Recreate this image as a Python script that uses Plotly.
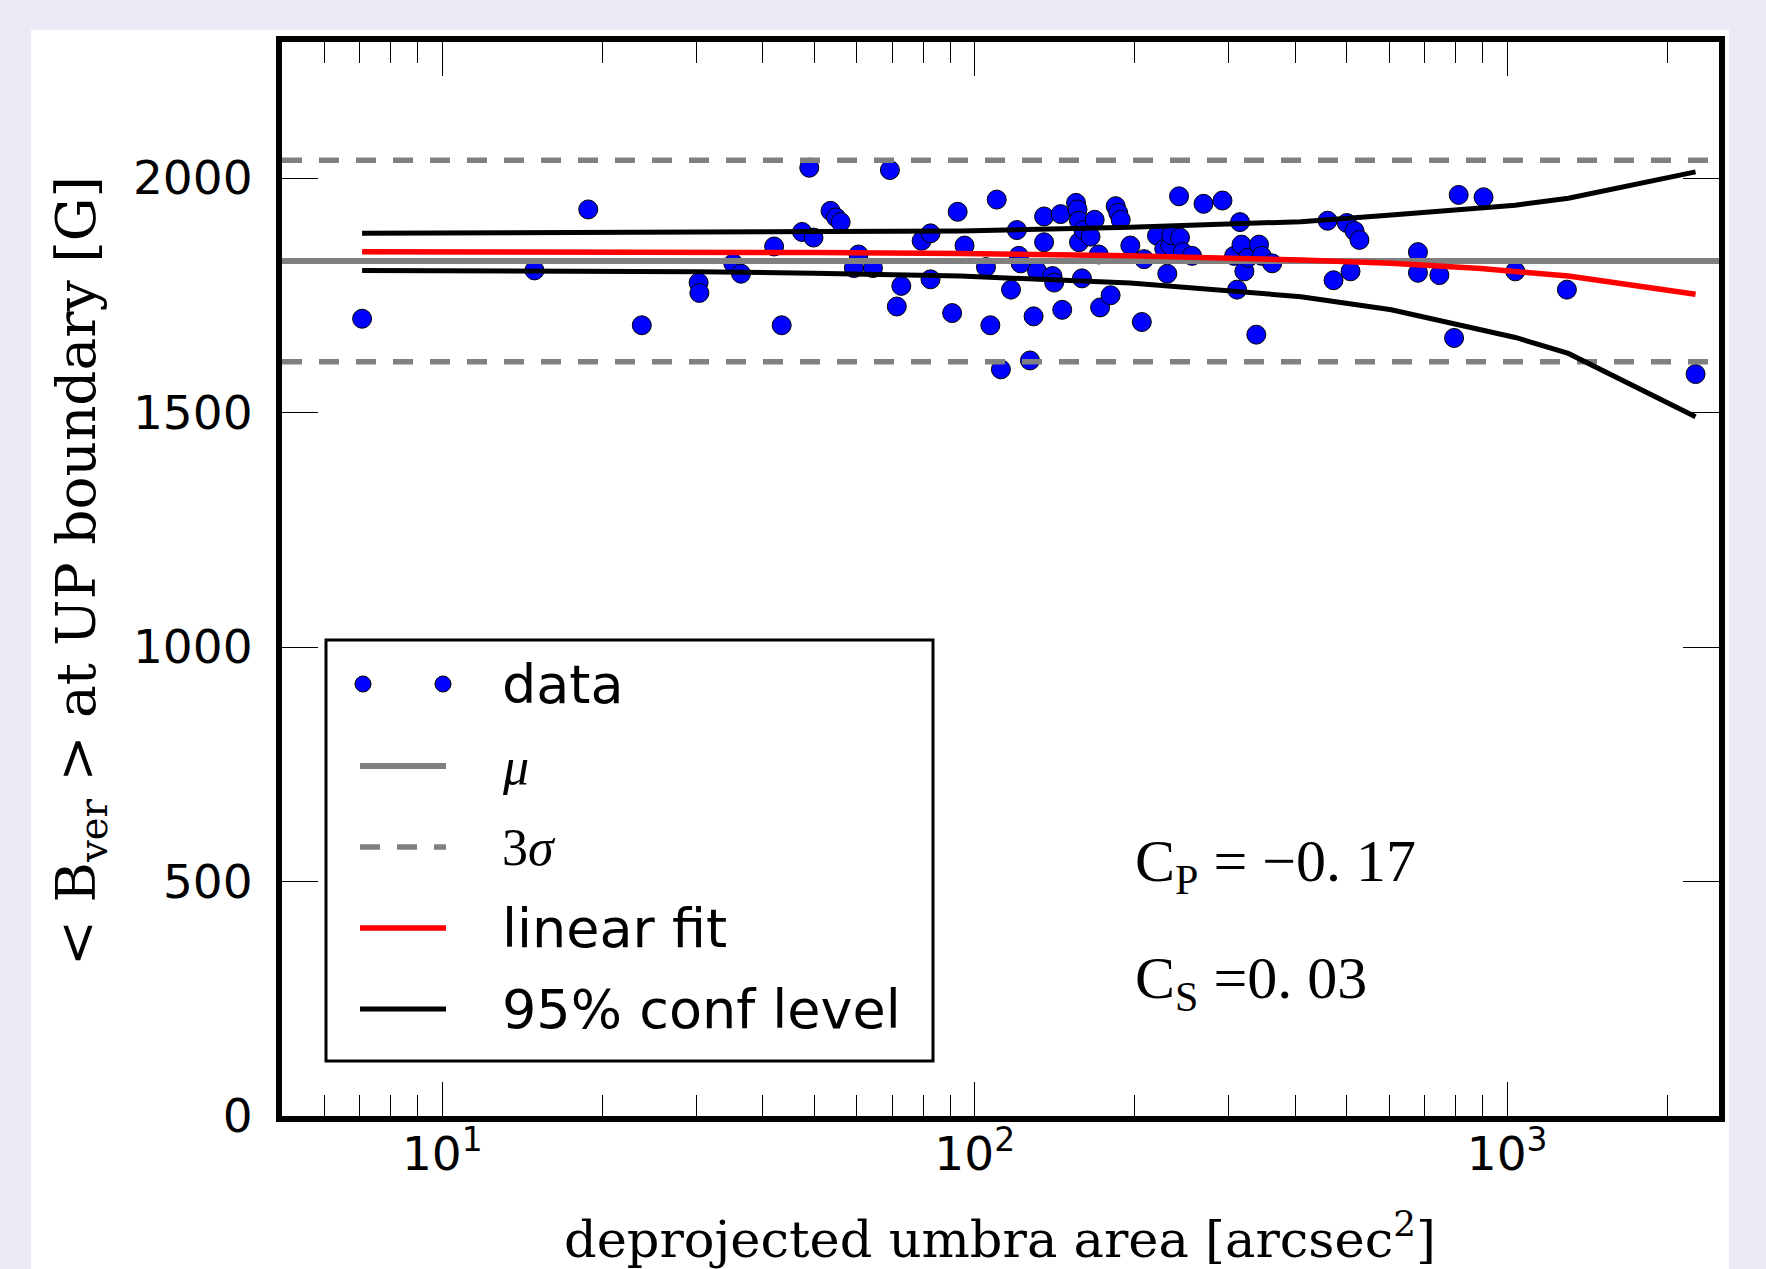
import plotly.graph_objects as go
import numpy as np

# ---------------- data ----------------
area = [7.07, 14.9, 18.8, 23.7, 30.3, 30.4, 35.2, 36.4, 42.0, 43.4, 47.4, 48.9, 49.8, 53.6, 54.9,
        56.0, 60.5, 59.3, 64.4, 69.3, 71.4, 72.8, 79.5, 82.6, 82.6, 90.7, 92.9, 95.7, 105, 107,
        110, 112, 117, 120, 121, 122, 127, 129, 131, 135, 135, 140, 141, 146, 145, 155, 156, 157,
        157, 159, 160, 165, 168, 171, 172, 180, 184, 186, 188, 196, 206, 208, 220, 227, 230, 233,
        234, 242, 243, 246, 256, 269, 292, 307, 311, 315, 317, 321, 326, 342, 338, 346, 362, 460,
        472, 500, 508, 517, 528, 680, 680, 746, 795, 811, 903, 1036, 1295, 2259]
bver = [1700, 1803, 1933, 1686, 1777, 1755, 1818, 1796, 1854, 1686, 1885, 2022, 1873, 1930, 1916,
        1906, 1837, 1808, 1808, 2017, 1726, 1770, 1866, 1882, 1784, 1712, 1928, 1856, 1810, 1686,
        1954, 1592, 1762, 1889, 1834, 1818, 1611, 1705, 1801, 1918, 1863, 1791, 1777, 1719, 1923,
        1947, 1933, 1863, 1909, 1786, 1889, 1875, 1911, 1837, 1724, 1750, 1940, 1926, 1911, 1856,
        1693, 1827, 1877, 1849, 1796, 1856, 1878, 1961, 1873, 1842, 1834, 1945, 1952, 1834, 1762,
        1906, 1858, 1801, 1830, 1858, 1666, 1834, 1818, 1909, 1782, 1904, 1801, 1887, 1868, 1842,
        1798, 1793, 1659, 1964, 1959, 1801, 1762, 1582]

fit_x = [7.07, 14.9, 30.3, 49.8, 94, 196, 410, 606, 893, 1036, 1303, 2259]
fit_y = [1843, 1843, 1842, 1841, 1839, 1834, 1825, 1818, 1807, 1801, 1791, 1752]
conf_upper = [1882, 1883, 1884, 1885, 1887, 1895, 1907, 1921, 1935, 1942, 1957, 2013]
conf_lower = [1803, 1802, 1800, 1797, 1791, 1776, 1747, 1719, 1678, 1660, 1626, 1491]

mu = 1823
three_sigma = 215
corr_pearson_label = "C<sub>P</sub> = −0. 17"
corr_spearman_label = "C<sub>S</sub> =0. 03"

x_limits = [5, 2500]
y_limits = [0, 2290]
x_tickvals = [10, 100, 1000]
x_ticktext = ["10<sup>1</sup>", "10<sup>2</sup>", "10<sup>3</sup>"]
x_minor = [6, 7, 8, 9, 20, 30, 40, 50, 60, 70, 80, 90, 200, 300, 400, 500, 600, 700, 800, 900, 2000]
y_tickvals = [0, 500, 1000, 1500, 2000]

# ---------------- layout geometry (pixels) ----------------
W, H = 1766, 1269
L, R, T, B = 282, 1719, 42, 1116
PW, PH = R - L, B - T


def px(xp):
    return (xp - L) / PW


def py(yp):
    return (B - yp) / PH


GRAY = "#808080"
BLUE = "#0000ff"
SANS = "DejaVu Sans"
SERIF = "Liberation Serif"
SERIF_W = "DejaVu Serif"

fig = go.Figure()

fig.add_trace(go.Scatter(x=area, y=bver, mode="markers", name="data",
                         marker=dict(color=BLUE, size=19, line=dict(color="black", width=1)),
                         showlegend=False))
fig.add_trace(go.Scatter(x=x_limits, y=[mu, mu], mode="lines", name="μ",
                         line=dict(color=GRAY, width=6), showlegend=False))
for s in (1, -1):
    fig.add_trace(go.Scatter(x=x_limits, y=[mu + s * three_sigma] * 2, mode="lines", name="3σ",
                             line=dict(color=GRAY, width=5.5, dash="20px,17px"), showlegend=False))
fig.add_trace(go.Scatter(x=fit_x, y=fit_y, mode="lines", name="linear fit",
                         line=dict(color="red", width=5.5), showlegend=False))
fig.add_trace(go.Scatter(x=fit_x, y=conf_upper, mode="lines", name="95% conf level",
                         line=dict(color="black", width=5), showlegend=False))
fig.add_trace(go.Scatter(x=fit_x, y=conf_lower, mode="lines", name="95% conf level",
                         line=dict(color="black", width=5), showlegend=False))

shapes = []
annotations = []

# white panel behind the figure
shapes.append(dict(type="rect", xref="paper", yref="paper", layer="below",
                   x0=px(31), x1=px(1729), y0=py(H + 20), y1=py(30),
                   fillcolor="white", line=dict(width=0)))

# manual legend (matplotlib-style)
shapes.append(dict(type="rect", xref="paper", yref="paper", layer="above",
                   x0=px(326), x1=px(933), y0=py(1061), y1=py(640),
                   fillcolor="white", line=dict(color="black", width=3)))
ly = [684, 766, 847, 928, 1009]
sx0, sx1 = 360, 446
for cx in (363, 443):
    shapes.append(dict(type="circle", xref="paper", yref="paper", layer="above",
                       xsizemode="pixel", ysizemode="pixel",
                       xanchor=px(cx), yanchor=py(ly[0]), x0=-8, x1=8, y0=-8, y1=8,
                       fillcolor=BLUE, line=dict(color="black", width=1)))
shapes.append(dict(type="line", xref="paper", yref="paper", layer="above",
                   x0=px(sx0), x1=px(sx1), y0=py(ly[1]), y1=py(ly[1]),
                   line=dict(color=GRAY, width=6)))
shapes.append(dict(type="line", xref="paper", yref="paper", layer="above",
                   x0=px(sx0), x1=px(sx1), y0=py(ly[2]), y1=py(ly[2]),
                   line=dict(color=GRAY, width=5.5, dash="20px,17px")))
shapes.append(dict(type="line", xref="paper", yref="paper", layer="above",
                   x0=px(sx0), x1=px(sx1), y0=py(ly[3]), y1=py(ly[3]),
                   line=dict(color="red", width=5.5)))
shapes.append(dict(type="line", xref="paper", yref="paper", layer="above",
                   x0=px(sx0), x1=px(sx1), y0=py(ly[4]), y1=py(ly[4]),
                   line=dict(color="black", width=5)))
leg_text = [("data", SANS, False), ("<i>μ</i>", SERIF, True), ("3<i>σ</i>", SERIF, True),
            ("linear fit", SANS, False), ("95% conf level", SANS, False)]
for (t, f, serif), yy in zip(leg_text, ly):
    annotations.append(dict(text=t, xref="paper", yref="paper", x=px(500), y=py(yy),
                            xanchor="left", yanchor="middle", showarrow=False,
                            font=dict(family=f, size=54 if not serif else 52, color="black")))

# correlation coefficients
annotations.append(dict(text=corr_pearson_label, xref="paper", yref="paper",
                        x=px(1133), y=py(865), xanchor="left", yanchor="middle", showarrow=False,
                        font=dict(family=SERIF, size=60, color="black")))
annotations.append(dict(text=corr_spearman_label, xref="paper", yref="paper",
                        x=px(1133), y=py(982), xanchor="left", yanchor="middle", showarrow=False,
                        font=dict(family=SERIF, size=60, color="black")))

# axis titles
annotations.append(dict(text="deprojected umbra area [arcsec<sup>2</sup>]", xref="paper", yref="paper",
                        x=px(1000), y=py(1236), xanchor="center", yanchor="middle", showarrow=False,
                        font=dict(family=SERIF_W, size=51, color="black")))
annotations.append(dict(text="&lt; B<sub>ver</sub> &gt; at UP boundary [G]", xref="paper", yref="paper",
                        x=px(80), y=py(571), xanchor="center", yanchor="middle", showarrow=False,
                        textangle=-90, font=dict(family=SERIF_W, size=55, color="black")))

fig.update_layout(
    width=W, height=H,
    margin=dict(l=L, r=W - R, t=T, b=H - B, pad=0),
    paper_bgcolor="#ecebf5",
    plot_bgcolor="white",
    showlegend=False,
    shapes=shapes,
    annotations=annotations,
    xaxis=dict(type="log", range=[np.log10(x_limits[0]), np.log10(x_limits[1])],
               showgrid=False, zeroline=False,
               showline=True, linecolor="black", linewidth=6, mirror="ticks",
               ticks="inside", ticklen=34, tickwidth=1.2, tickcolor="black",
               tickvals=x_tickvals, ticktext=x_ticktext, ticklabelstandoff=-8,
               tickfont=dict(family=SANS, size=47, color="black"),
               minor=dict(ticks="inside", ticklen=21, tickwidth=1.2, tickcolor="black",
                          tickvals=x_minor, showgrid=False)),
    yaxis=dict(range=y_limits, showgrid=False, zeroline=False,
               showline=True, linecolor="black", linewidth=6, mirror="ticks",
               ticks="inside", ticklen=36, tickwidth=1.2, tickcolor="black",
               tickvals=y_tickvals, ticklabelstandoff=14,
               tickfont=dict(family=SANS, size=47, color="black")),
)

fig.write_html("out.html", config={"displayModeBar": False},
               post_script="document.body.style.margin='0';")
